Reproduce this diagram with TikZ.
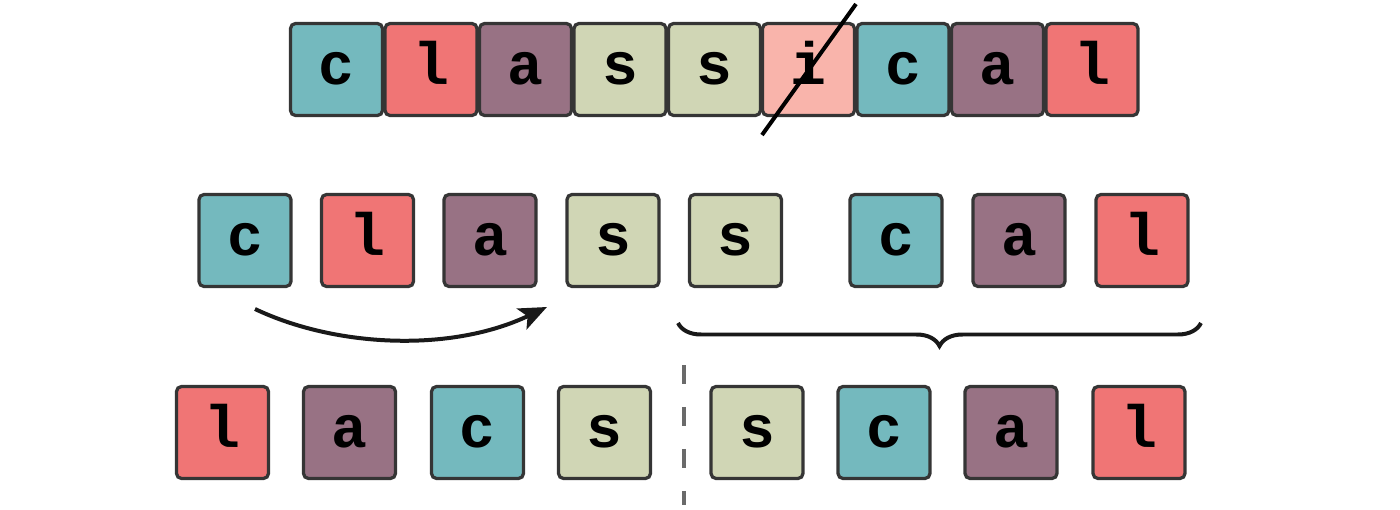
\documentclass[tikz,border=0pt]{standalone}
\usepackage{fontspec}
\setmonofont{Liberation Mono}
\usetikzlibrary{arrows.meta, decorations.pathreplacing}
\definecolor{tealbox}{HTML}{74B9BE}
\definecolor{redbox}{HTML}{F07575}
\definecolor{mauvebox}{HTML}{987284}
\definecolor{sagebox}{HTML}{D0D6B5}
\definecolor{pinkbox}{HTML}{F9B4AB}
\definecolor{edgegray}{HTML}{353535}
\definecolor{splitgray}{HTML}{6A6A6A}
\tikzset{
  letterbox/.style={draw=edgegray, line width=0.065cm, rounded corners=0.1cm,
    minimum size=1.84cm, inner sep=0pt, text height=17pt, text depth=0pt,
    font=\fontsize{34}{34}\selectfont\ttfamily\bfseries},
  cbox/.style={letterbox, fill=tealbox},
  lbox/.style={letterbox, fill=redbox},
  abox/.style={letterbox, fill=mauvebox},
  sbox/.style={letterbox, fill=sagebox},
  ibox/.style={letterbox, fill=pinkbox},
}

\begin{document}
\begin{tikzpicture}[x=0.02cm, y=-0.02cm]
    \useasboundingbox (0,0) rectangle (1400,510);

    % Original word
    \node (t1) at (336.5, 69.5) [cbox] {c};
    \node (t2) at (431, 69.5) [lbox] {l};
    \node (t3) at (525.5, 69.5) [abox] {a};
    \node (t4) at (620, 69.5) [sbox] {s};
    \node (t5) at (714.5, 69.5) [sbox] {s};
    \node (t6) at (808.5, 69.5) [ibox] {i};
    \node (t7) at (903, 69.5) [cbox] {c};
    \node (t8) at (997.5, 69.5) [abox] {a};
    \node (t9) at (1092, 69.5) [lbox] {l};
    \coordinate (cutA) at (762, 135);
    \coordinate (cutB) at (856, 4);
    \draw[line width=0.08cm, black] (cutA) -- (cutB);

    % Letters split apart
    \node (m1) at (245, 240.5) [cbox] {c};
    \node (m2) at (367.5, 240.5) [lbox] {l};
    \node (m3) at (490, 240.5) [abox] {a};
    \node (m4) at (613, 240.5) [sbox] {s};
    \node (m5) at (735.5, 240.5) [sbox] {s};
    \node (m6) at (896, 240.5) [cbox] {c};
    \node (m7) at (1019, 240.5) [abox] {a};
    \node (m8) at (1142, 240.5) [lbox] {l};
    \coordinate (swapFrom) at (255, 309);
    \coordinate (swapTo) at (547, 307);
    \draw[-{Stealth[length=0.56cm, width=0.46cm, inset=0.13cm]}, line width=0.08cm, black!90]
        (swapFrom) .. controls (335, 347) and (450, 353) .. (swapTo);
    \coordinate (braceL) at (678, 323);
    \coordinate (braceR) at (1201, 323);
    \draw[decorate, decoration={brace, mirror, amplitude=0.46cm}, line width=0.08cm, black!90]
        (braceL) -- (braceR);

    % Rearranged halves
    \node (b1) at (222.5, 432.5) [lbox] {l};
    \node (b2) at (349.5, 432.5) [abox] {a};
    \node (b3) at (477.5, 432.5) [cbox] {c};
    \node (b4) at (604.5, 432.5) [sbox] {s};
    \node (b5) at (757, 432.5) [sbox] {s};
    \node (b6) at (884, 432.5) [cbox] {c};
    \node (b7) at (1011, 432.5) [abox] {a};
    \node (b8) at (1139, 432.5) [lbox] {l};
    \coordinate (splitTop) at (684, 365);
    \coordinate (splitBot) at (684, 505);
    \draw[splitgray, line width=0.08cm, dash pattern=on 0.38cm off 0.46cm] (splitTop) -- (splitBot);
\end{tikzpicture}
\end{document}
